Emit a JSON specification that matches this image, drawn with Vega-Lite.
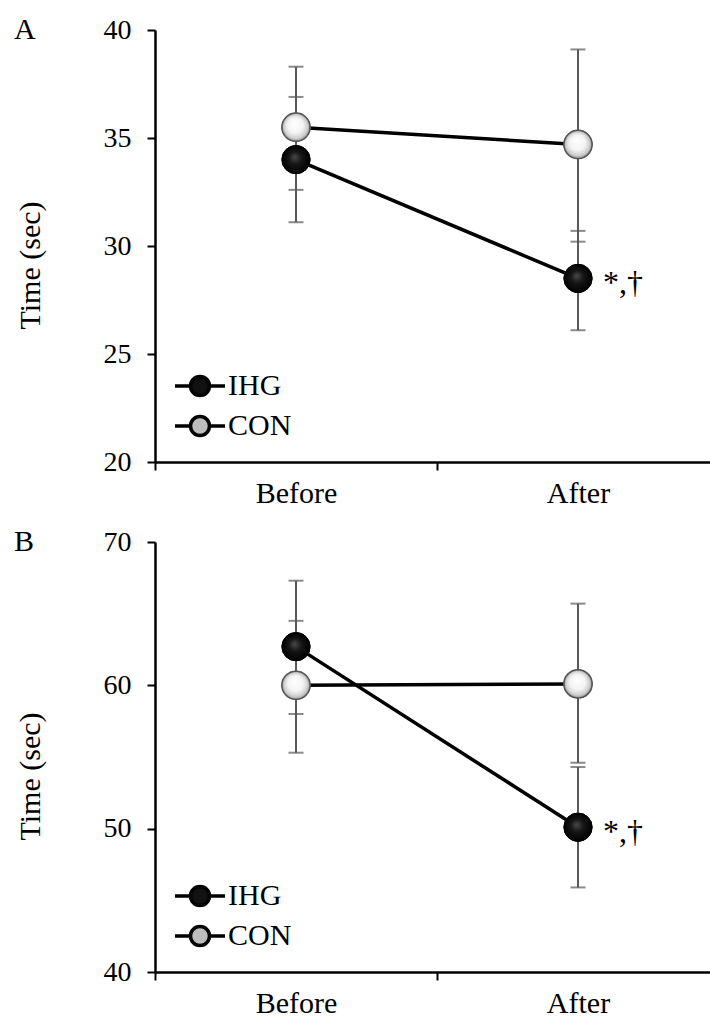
{
  "$schema": "https://vega.github.io/schema/vega-lite/v6.json",
  "background": "white",
  "padding": {"left": 14, "top": 15, "right": 0, "bottom": 0},
  "config": {
    "font": "Liberation Serif",
    "view": {"stroke": null},
    "concat": {"spacing": 19},
    "axis": {
      "grid": false,
      "labelFont": "Liberation Serif",
      "titleFont": "Liberation Serif",
      "labelFontSize": 28,
      "titleFontSize": 30,
      "titleFontWeight": "normal",
      "labelColor": "#000",
      "titleColor": "#000",
      "domainColor": "#000",
      "domainWidth": 2.5,
      "tickColor": "#000",
      "tickWidth": 2,
      "tickSize": 8
    },
    "legend": {
      "orient": "bottom-left",
      "offset": 19,
      "padding": 0,
      "labelFont": "Liberation Serif",
      "labelFontSize": 30,
      "labelColor": "#000",
      "symbolType": "M-2.5,0L-0.95,0M0.95,0L2.5,0M-0.95,0A0.95,0.95 0 1,1 0.95,0A0.95,0.95 0 1,1 -0.95,0Z",
      "symbolSize": 400,
      "symbolOffset": 11,
      "labelOffset": 13,
      "rowPadding": 6,
      "symbolStrokeColor": "#000",
      "symbolStrokeWidth": 3.5
    }
  },
  "resolve": {"scale": {"fill": "independent", "y": "independent", "x": "independent"}, "legend": {"fill": "independent"}},
  "data": {
    "values": [
      {"panel": "A", "group": "IHG", "time": "Before", "mean": 34.0, "lo": 31.1, "hi": 36.9},
      {"panel": "A", "group": "CON", "time": "Before", "mean": 35.5, "lo": 32.6, "hi": 38.3},
      {"panel": "A", "group": "IHG", "time": "After", "mean": 28.5, "lo": 26.1, "hi": 30.7, "sig": "*,†"},
      {"panel": "A", "group": "CON", "time": "After", "mean": 34.7, "lo": 30.2, "hi": 39.1},
      {"panel": "B", "group": "IHG", "time": "Before", "mean": 62.7, "lo": 58.0, "hi": 67.3},
      {"panel": "B", "group": "CON", "time": "Before", "mean": 60.0, "lo": 55.3, "hi": 64.5},
      {"panel": "B", "group": "IHG", "time": "After", "mean": 50.1, "lo": 45.9, "hi": 54.3, "sig": "*,†"},
      {"panel": "B", "group": "CON", "time": "After", "mean": 60.1, "lo": 54.6, "hi": 65.7}
    ]
  },
  "vconcat": [
    {
      "width": 564,
      "height": 432,
      "title": {"text": "A", "anchor": "start", "frame": "group", "orient": "top", "dx": -141, "dy": 44, "offset": 0, "baseline": "middle", "fontSize": 30, "fontWeight": "normal", "font": "Liberation Serif", "color": "#000"},
      "transform": [{"filter": "datum.panel === 'A'"}],
      "encoding": {
        "x": {"field": "time", "type": "nominal", "sort": ["Before", "After"], "scale": {"type": "band", "paddingInner": 0, "paddingOuter": 0}, "axis": {"title": null, "labelAngle": 0, "tickBand": "extent", "labelPadding": 8, "labelFontSize": 30}}
      },
      "layer": [
        {
          "mark": {"type": "rule", "color": "#595959", "strokeWidth": 2},
          "encoding": {
            "y": {"field": "lo", "type": "quantitative", "scale": {"domain": [20, 40], "nice": false, "zero": false}, "axis": {"title": "Time (sec)", "values": [20, 25, 30, 35, 40], "labelPadding": 16, "titlePadding": 58, "titleY": 235}},
            "y2": {"field": "hi"}
          }
        },
        {
          "mark": {"type": "tick", "color": "#595959", "thickness": 2, "size": 15},
          "encoding": {"y": {"field": "lo", "type": "quantitative", "title": "Time (sec)"}}
        },
        {
          "mark": {"type": "tick", "color": "#595959", "thickness": 2, "size": 15},
          "encoding": {"y": {"field": "hi", "type": "quantitative", "title": "Time (sec)"}}
        },
        {
          "mark": {"type": "line", "color": "#000", "strokeWidth": 3.5},
          "encoding": {"y": {"field": "mean", "type": "quantitative", "title": "Time (sec)"}, "detail": {"field": "group"}}
        },
        {
          "mark": {"type": "circle", "size": 800, "opacity": 1, "stroke": "#555", "strokeWidth": 1},
          "encoding": {
            "y": {"field": "mean", "type": "quantitative", "title": "Time (sec)"},
            "fill": {"field": "group", "type": "nominal", "sort": ["IHG", "CON"], "scale": {"domain": ["IHG", "CON"], "range": ["#111111", "#bdbdbd"]}, "legend": {"title": null, "encode": {"symbols": {"update": {"stroke": {"value": "#000"}, "strokeWidth": {"value": 3.5}, "opacity": {"value": 1}}}}}}
          }
        },
        {
          "transform": [{"filter": "datum.group === 'IHG'"}],
          "mark": {"type": "circle", "size": 800, "opacity": 1, "stroke": "#000", "strokeWidth": 1, "fill": {"gradient": "radial", "x1": 0.45, "y1": 0.4, "r1": 0, "x2": 0.5, "y2": 0.5, "r2": 0.5, "stops": [{"offset": 0, "color": "#4a4a4a"}, {"offset": 0.45, "color": "#161616"}, {"offset": 1, "color": "#000000"}]}},
          "encoding": {"y": {"field": "mean", "type": "quantitative", "title": "Time (sec)"}}
        },
        {
          "transform": [{"filter": "datum.group === 'CON'"}],
          "mark": {"type": "circle", "size": 800, "opacity": 1, "stroke": "#555", "strokeWidth": 1.5, "fill": {"gradient": "radial", "x1": 0.45, "y1": 0.35, "r1": 0, "x2": 0.5, "y2": 0.5, "r2": 0.5, "stops": [{"offset": 0, "color": "#ffffff"}, {"offset": 0.55, "color": "#f4f4f4"}, {"offset": 0.85, "color": "#cccccc"}, {"offset": 1, "color": "#8a8a8a"}]}},
          "encoding": {"y": {"field": "mean", "type": "quantitative", "title": "Time (sec)"}}
        },
        {
          "transform": [{"filter": "isValid(datum.sig)"}],
          "mark": {"type": "text", "align": "left", "baseline": "alphabetic", "dx": 25, "dy": 15, "fontSize": 32, "font": "Liberation Serif", "color": "#000"},
          "encoding": {"y": {"field": "mean", "type": "quantitative", "title": "Time (sec)"}, "text": {"field": "sig"}}
        }
      ]
    },
    {
      "width": 564,
      "height": 430,
      "title": {"text": "B", "anchor": "start", "frame": "group", "orient": "top", "dx": -141, "dy": 44, "offset": 0, "baseline": "middle", "fontSize": 30, "fontWeight": "normal", "font": "Liberation Serif", "color": "#000"},
      "transform": [{"filter": "datum.panel === 'B'"}],
      "encoding": {
        "x": {"field": "time", "type": "nominal", "sort": ["Before", "After"], "scale": {"type": "band", "paddingInner": 0, "paddingOuter": 0}, "axis": {"title": null, "labelAngle": 0, "tickBand": "extent", "labelPadding": 8, "labelFontSize": 30}}
      },
      "layer": [
        {
          "mark": {"type": "rule", "color": "#595959", "strokeWidth": 2},
          "encoding": {
            "y": {"field": "lo", "type": "quantitative", "scale": {"domain": [40, 70], "nice": false, "zero": false}, "axis": {"title": "Time (sec)", "values": [40, 50, 60, 70], "labelPadding": 16, "titlePadding": 58, "titleY": 234}},
            "y2": {"field": "hi"}
          }
        },
        {
          "mark": {"type": "tick", "color": "#595959", "thickness": 2, "size": 15},
          "encoding": {"y": {"field": "lo", "type": "quantitative", "title": "Time (sec)"}}
        },
        {
          "mark": {"type": "tick", "color": "#595959", "thickness": 2, "size": 15},
          "encoding": {"y": {"field": "hi", "type": "quantitative", "title": "Time (sec)"}}
        },
        {
          "mark": {"type": "line", "color": "#000", "strokeWidth": 3.5},
          "encoding": {"y": {"field": "mean", "type": "quantitative", "title": "Time (sec)"}, "detail": {"field": "group"}}
        },
        {
          "mark": {"type": "circle", "size": 800, "opacity": 1, "stroke": "#555", "strokeWidth": 1},
          "encoding": {
            "y": {"field": "mean", "type": "quantitative", "title": "Time (sec)"},
            "fill": {"field": "group", "type": "nominal", "sort": ["IHG", "CON"], "scale": {"domain": ["IHG", "CON"], "range": ["#111111", "#bdbdbd"]}, "legend": {"title": null, "encode": {"symbols": {"update": {"stroke": {"value": "#000"}, "strokeWidth": {"value": 3.5}, "opacity": {"value": 1}}}}}}
          }
        },
        {
          "transform": [{"filter": "datum.group === 'IHG'"}],
          "mark": {"type": "circle", "size": 800, "opacity": 1, "stroke": "#000", "strokeWidth": 1, "fill": {"gradient": "radial", "x1": 0.45, "y1": 0.4, "r1": 0, "x2": 0.5, "y2": 0.5, "r2": 0.5, "stops": [{"offset": 0, "color": "#4a4a4a"}, {"offset": 0.45, "color": "#161616"}, {"offset": 1, "color": "#000000"}]}},
          "encoding": {"y": {"field": "mean", "type": "quantitative", "title": "Time (sec)"}}
        },
        {
          "transform": [{"filter": "datum.group === 'CON'"}],
          "mark": {"type": "circle", "size": 800, "opacity": 1, "stroke": "#555", "strokeWidth": 1.5, "fill": {"gradient": "radial", "x1": 0.45, "y1": 0.35, "r1": 0, "x2": 0.5, "y2": 0.5, "r2": 0.5, "stops": [{"offset": 0, "color": "#ffffff"}, {"offset": 0.55, "color": "#f4f4f4"}, {"offset": 0.85, "color": "#cccccc"}, {"offset": 1, "color": "#8a8a8a"}]}},
          "encoding": {"y": {"field": "mean", "type": "quantitative", "title": "Time (sec)"}}
        },
        {
          "transform": [{"filter": "isValid(datum.sig)"}],
          "mark": {"type": "text", "align": "left", "baseline": "alphabetic", "dx": 25, "dy": 15, "fontSize": 32, "font": "Liberation Serif", "color": "#000"},
          "encoding": {"y": {"field": "mean", "type": "quantitative", "title": "Time (sec)"}, "text": {"field": "sig"}}
        }
      ]
    }
  ]
}
